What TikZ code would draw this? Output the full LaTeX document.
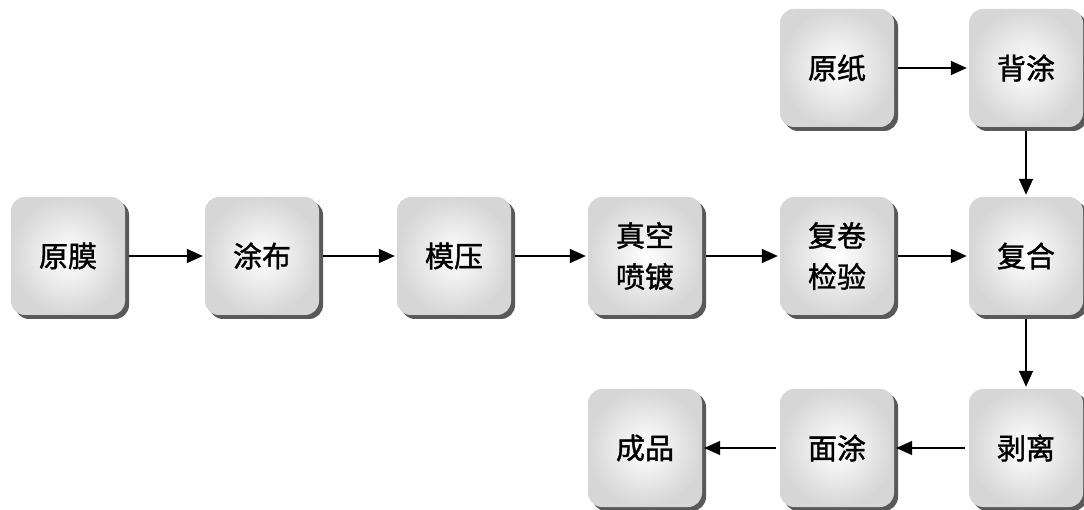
\documentclass[tikz,border=0pt]{standalone}
\usepackage{fontspec}
\newfontfamily\cjk[FakeBold=1.3]{Noto Sans CJK SC}
\usetikzlibrary{arrows.meta,shadows}
\tikzset{
  stepbox/.style={
    rounded corners=14pt, minimum width=114pt, minimum height=118pt,
    inner sep=0pt, align=center,
    inner color=white, outer color=gray!32,
    drop shadow={shadow xshift=4pt, shadow yshift=-4pt, fill=black!65, opacity=1},
    font=\cjk\fontsize{29pt}{41pt}\selectfont
  },
  flow/.style={line width=1.5pt, -{Triangle[length=16pt,width=14pt]},
    shorten <=4pt, shorten >=2pt}
}
\begin{document}
\begin{tikzpicture}[x=1pt,y=-1pt]
\useasboundingbox (0,0) rectangle (1084,510);
\node[stepbox] (ym) at (68,256) {原膜};
\node[stepbox] (tb) at (262,256) {涂布};
\node[stepbox] (my) at (454,256) {模压};
\node[stepbox] (zk) at (645,256) {真空\\喷镀};
\node[stepbox] (fj) at (837,256) {复卷\\检验};
\node[stepbox] (fh) at (1026,256) {复合};
\node[stepbox] (yz) at (837,68) {原纸};
\node[stepbox] (bt) at (1026,68) {背涂};
\node[stepbox] (bl) at (1026,448) {剥离};
\node[stepbox] (mt) at (837,448) {面涂};
\node[stepbox] (cp) at (645,448) {成品};
\draw[flow] (ym) -- (tb);
\draw[flow] (tb) -- (my);
\draw[flow] (my) -- (zk);
\draw[flow] (zk) -- (fj);
\draw[flow] (fj) -- (fh);
\draw[flow] (yz) -- (bt);
\draw[flow] (bt) -- (fh);
\draw[flow] (fh) -- (bl);
\draw[flow] (bl) -- (mt);
\draw[flow] (mt) -- (cp);
\end{tikzpicture}
\end{document}
